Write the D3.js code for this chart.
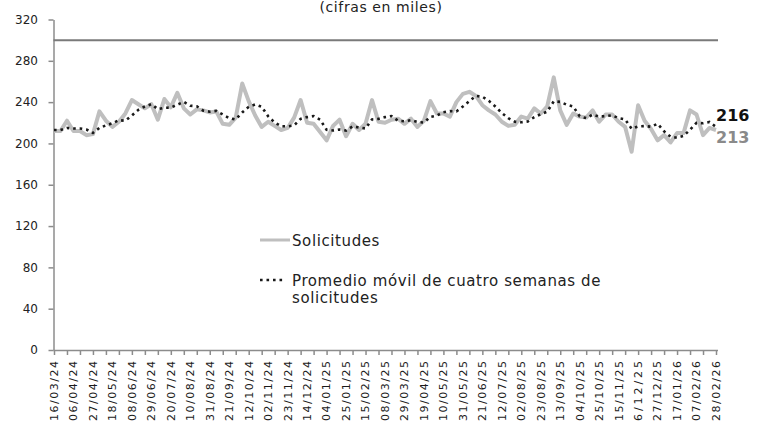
<!DOCTYPE html>
<html>
<head>
<meta charset="utf-8">
<script src="https://cdn.jsdelivr.net/npm/d3@7"></script>
<style>
  body { margin: 0; background: #fff; }
  svg { display: block; }
</style>
</head>
<body>
<script>
const WIDTH = 760;
const HEIGHT = 423;

// week labels shown every 3 weeks
const tickLabels = ["16/03/24","06/04/24","27/04/24","18/05/24","08/06/24","29/06/24","20/07/24","10/08/24",
  "31/08/24","21/09/24","12/10/24","02/11/24","23/11/24","14/12/24","04/01/25","25/01/25","15/02/25",
  "08/03/25","29/03/25","19/04/25","10/05/25","31/05/25","21/06/25","12/07/25","02/08/25","23/08/25",
  "13/09/25","04/10/25","25/10/25","15/11/25","6/12/25","27/12/25","17/01/26","07/02/26","28/02/26"];

// weekly claims (thousands)
const claims = [212,212,222,212,212,208,209,231,222,216,
  221,229,242,238,234,238,223,243,235,249,
  234,228,233,232,230,231,219,218,225,258,
  241,227,216,221,217,213,215,225,242,220,
  219,211,203,217,223,207,219,213,219,242,
  221,220,223,224,219,224,216,222,241,229,
  229,226,240,248,250,246,237,232,228,221,
  217,218,226,224,234,229,236,264,232,218,
  229,226,225,232,221,228,228,221,216,192,
  237,222,214,203,208,201,210,210,232,228,
  208,215,213];

// four week moving average (thousands)
const movingAvg = [213,213,215,214.5,214.5,213.5,210.25,215,217.5,219.5,
  222.5,222,227,232.5,235.75,238,233.25,234.5,234.75,237.5,
  240.25,236.5,236,231.75,230.75,231.5,228,224.5,223.25,230,
  235.5,237.75,235.5,226.25,220.25,216.75,216.5,217.5,223.75,225.5,
  226.5,223,213.25,212.5,213.5,212.5,216.5,215.5,214.5,223.25,
  223.75,225.5,226.5,222,221.5,222.5,220.75,220.25,225.75,227,
  230.25,231.25,231,235.75,241,246,245.25,241.25,235.75,229.5,
  224.5,221,220.5,221.25,225.5,228.25,230.75,240.75,240.25,237.5,
  235.75,226.25,224.5,228,226,226.5,227.25,224.5,223.25,214.25,
  216.5,216.75,216.25,219,211.75,206.5,205.5,207.25,213.25,220,
  219.5,220.75,216];

const yTicks = [0,40,80,120,160,200,240,280,320];
const refValue = 300;
const lastLabels = ["216", "213"];

const GRAY = "#bfbfbf";
const AXIS = "#8c8c8c";
const FONT = "'DejaVu Sans', sans-serif";

const svg = d3.select("body").append("svg")
  .attr("width", WIDTH)
  .attr("height", HEIGHT);

//scales
const weeks = d3.range(claims.length);
const x = d3.scalePoint().domain(weeks).range([54, 716]);
const y = d3.scaleLinear().domain([0, 320]).range([350, 19.5]);

//title
svg.append("text")
  .attr("x", 381).attr("y", 12)
  .attr("text-anchor", "middle")
  .style("font-family", FONT).style("font-size", "14px")
  .style("letter-spacing", "0.6px")
  .attr("fill", "#222")
  .text("(cifras en miles)");

//y axis
const yAxis = svg.append("g")
  .attr("transform", "translate(53.5,0)")
  .call(d3.axisLeft(y).tickValues(yTicks).tickSize(5).tickPadding(10.5).tickSizeOuter(0));
yAxis.select(".domain").attr("stroke", AXIS).attr("stroke-width", 1.5);
yAxis.selectAll(".tick line").attr("stroke", AXIS).attr("stroke-width", 1.5);
yAxis.selectAll("text")
  .style("font-family", FONT).style("font-size", "12px").attr("fill", "#222");

//x axis: ticks every 2 weeks
const xAxis = svg.append("g")
  .attr("transform", "translate(0,350)")
  .call(d3.axisBottom(x).tickValues(weeks.filter(d => d % 2 === 0)).tickSize(5).tickFormat("").tickSizeOuter(0));
xAxis.select(".domain").attr("d", "M53.5,0.5H718").attr("stroke", AXIS).attr("stroke-width", 1.5);
xAxis.selectAll(".tick line").attr("stroke", AXIS).attr("stroke-width", 1.5);

//x labels every 3 weeks
svg.append("g").selectAll("text")
  .data(tickLabels).enter().append("text")
  .attr("transform", (d, i) => "translate(" + x(i * 3) + ",361) rotate(-90)")
  .attr("text-anchor", "end")
  .attr("dy", "0.35em")
  .attr("textLength", 60)
  .attr("lengthAdjust", "spacing")
  .style("font-family", FONT).style("font-size", "11px")
  .attr("fill", "#1a1a1a")
  .text(d => d);

//reference line at 300
svg.append("line")
  .attr("x1", 53.5).attr("x2", 718)
  .attr("y1", y(refValue)).attr("y2", y(refValue))
  .attr("stroke", "#7a7a7a").attr("stroke-width", 2);

//claims line
svg.append("path")
  .datum(claims)
  .attr("fill", "none")
  .attr("stroke", GRAY)
  .attr("stroke-width", 4)
  .attr("stroke-linejoin", "round")
  .attr("d", d3.line().x((d, i) => x(i)).y(d => y(d)));

//moving average, dotted
svg.append("path")
  .datum(movingAvg)
  .attr("fill", "none")
  .attr("stroke", "#1a1a1a")
  .attr("stroke-width", 2.6)
  .attr("stroke-dasharray", "2.6,3.9")
  .attr("d", d3.line().x((d, i) => x(i)).y(d => y(d)));

//last values
svg.append("text")
  .attr("x", 716).attr("y", 121)
  .style("font-family", FONT).style("font-size", "16px").style("font-weight", "bold")
  .attr("fill", "#111")
  .text(lastLabels[0]);
svg.append("text")
  .attr("x", 716).attr("y", 143)
  .style("font-family", FONT).style("font-size", "16px").style("font-weight", "bold")
  .attr("fill", "#8a8a8a")
  .text(lastLabels[1]);

//legend
const legend = svg.append("g").style("font-family", FONT).style("font-size", "15px")
  .style("letter-spacing", "0.6px").attr("fill", "#222");
legend.append("line")
  .attr("x1", 260).attr("x2", 290).attr("y1", 240).attr("y2", 240)
  .attr("stroke", GRAY).attr("stroke-width", 3);
legend.append("text").attr("x", 292).attr("y", 246).text("Solicitudes");
legend.append("line")
  .attr("x1", 260).attr("x2", 284).attr("y1", 280).attr("y2", 280)
  .attr("stroke", "#1a1a1a").attr("stroke-width", 2.6).attr("stroke-dasharray", "2.6,3.9");
legend.append("text").attr("x", 292).attr("y", 286).text("Promedio móvil de cuatro semanas de");
legend.append("text").attr("x", 292).attr("y", 303).text("solicitudes");
</script>
</body>
</html>
